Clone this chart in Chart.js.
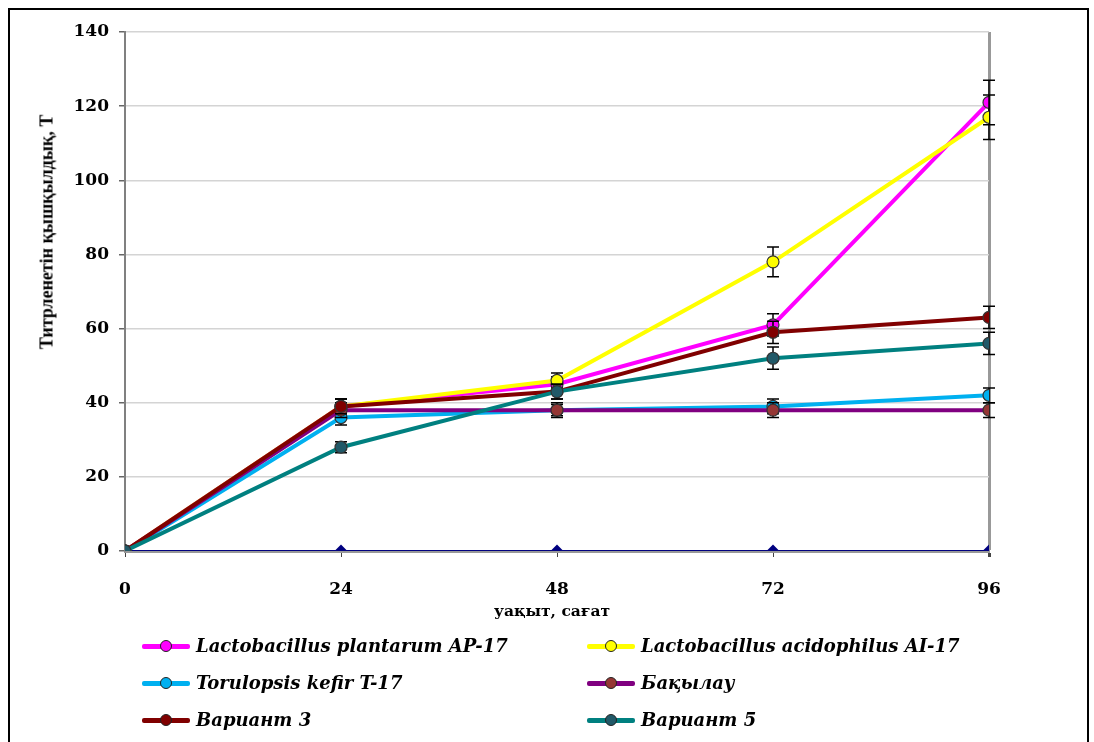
<!DOCTYPE html>
<html>
<head>
<meta charset="utf-8">
<script src="https://cdn.jsdelivr.net/npm/chart.js@4.4.0/dist/chart.umd.min.js"></script>
<style>
  body { margin: 0; background: #fff; }
  #wrap { position: relative; width: 1094px; height: 742px; overflow: hidden; }
  #frame { position: absolute; left: 8px; top: 8px; width: 1077px; height: 760px; border: 2px solid #000; pointer-events: none; }
  .axis-title { position: absolute; font-weight: bold; color: #000; white-space: nowrap; }
  #ytitle { left: 47px; top: 232px; font-family: "Liberation Serif", serif; font-size: 18px; transform: translate(-50%, -50%) rotate(-90deg); }
  #xtitle { left: 552px; top: 610px; font-family: "DejaVu Serif", serif; font-size: 15.5px; transform: translate(-50%, -50%); }
  .leg { position: absolute; display: flex; align-items: center; font-family: "DejaVu Serif", serif; font-weight: bold; font-style: italic; font-size: 18px; white-space: nowrap; }
  .leg .sym { position: relative; width: 48px; height: 14px; margin-right: 6px; }
  .leg .sym .ln { position: absolute; left: 0; right: 0; top: 5px; height: 5px; border-radius: 2px; }
  .leg .sym .dot { position: absolute; left: 18px; top: 1px; width: 10px; height: 10px; border-radius: 50%; border: 1.5px solid #222; }
</style>
</head>
<body>
<div id="wrap">
  <canvas id="chart" width="1094" height="742"></canvas>
  <div class="axis-title" id="ytitle">Титрленетін қышқылдық, Т</div>
  <div class="axis-title" id="xtitle">уақыт, сағат</div>
  <div id="legend"></div>
  <div id="frame"></div>
</div>
<script>
// data
const hours = [0, 24, 48, 72, 96];
const plantarum = [0, 39, 45, 61, 121];
const acidophilus = [0, 39, 46, 78, 117];
const kefir = [0, 36, 38, 39, 42];
const control = [0, 38, 38, 38, 38];
const variant3 = [0, 39, 43, 59, 63];
const variant5 = [0, 28, 43, 52, 56];
const baseline = [0, 0, 0, 0, 0];

const plantarumErr = [0, 2, 2, 3, 6];
const acidophilusErr = [0, 2, 2, 4, 6];
const kefirErr = [0, 2, 1.5, 2, 2];
const controlErr = [0, 2, 2, 2, 2];
const variant3Err = [0, 2, 2, 3, 3];
const variant5Err = [0, 1.5, 2, 3, 3];

const seriesNames = [
  "Lactobacillus plantarum AP-17",
  "Lactobacillus acidophilus  AI-17",
  "Torulopsis kefir T-17",
  "Бақылау",
  "Вариант 3",
  "Вариант 5",
];
const yTicks = [0, 20, 40, 60, 80, 100, 120, 140];

function pts(values) {
  return values.map((v, i) => ({ x: hours[i], y: v }));
}

const series = [
  { name: seriesNames[0], data: plantarum, err: plantarumErr, line: "#ff00ff", fill: "#ff00ff" },
  { name: seriesNames[1], data: acidophilus, err: acidophilusErr, line: "#ffff00", fill: "#ffff00" },
  { name: seriesNames[2], data: kefir, err: kefirErr, line: "#00b0f0", fill: "#00b0f0" },
  { name: seriesNames[3], data: control, err: controlErr, line: "#800080", fill: "#953735" },
  { name: seriesNames[4], data: variant3, err: variant3Err, line: "#800000", fill: "#800000" },
  { name: seriesNames[5], data: variant5, err: variant5Err, line: "#008080", fill: "#215968" },
];

const datasets = series.map((s, i) => ({
  label: s.name,
  data: pts(s.data),
  errors: s.err,
  borderColor: s.line,
  borderWidth: 4,
  pointBackgroundColor: s.fill,
  pointBorderColor: "#333",
  pointBorderWidth: 1.2,
  pointRadius: 6,
  order: 10 - i,
}));
datasets.push({
  label: "base",
  data: pts(baseline),
  borderColor: "#000080",
  borderWidth: 2,
  pointStyle: "rectRot",
  pointRadius: 5,
  pointBackgroundColor: "#000080",
  pointBorderColor: "#000080",
  order: 20,
});

// error bars drawn before each line so markers sit on top
const errorBars = {
  id: "errorBars",
  beforeDatasetDraw(chart, args) {
    const ds = chart.data.datasets[args.index];
    if (!ds.errors) return;
    const ctx = chart.ctx;
    const ys = chart.scales.y;
    ctx.save();
    ctx.strokeStyle = "#000";
    ctx.lineWidth = 1.5;
    args.meta.data.forEach((p, i) => {
      const e = ds.errors[i];
      if (!e) return;
      const v = ds.data[i].y;
      const top = ys.getPixelForValue(v + e);
      const bot = ys.getPixelForValue(v - e);
      ctx.beginPath();
      ctx.moveTo(p.x, top);
      ctx.lineTo(p.x, bot);
      ctx.moveTo(p.x - 6, top);
      ctx.lineTo(p.x + 6, top);
      ctx.moveTo(p.x - 6, bot);
      ctx.lineTo(p.x + 6, bot);
      ctx.stroke();
    });
    ctx.restore();
  },
};

const tickFont = { family: "DejaVu Serif", weight: "bold", size: 17 };

new Chart(document.getElementById("chart"), {
  type: "line",
  data: { datasets: datasets },
  plugins: [errorBars],
  options: {
    responsive: false,
    animation: false,
    layout: { padding: { left: 0, top: 32, right: 105, bottom: 0 } },
    plugins: { legend: { display: false }, tooltip: { enabled: false } },
    scales: {
      x: {
        type: "linear",
        min: 0,
        max: 96,
        afterFit: (s) => { s.height = 191; },
        afterBuildTicks: (s) => { s.ticks = hours.map((h) => ({ value: h })); },
        ticks: { font: tickFont, color: "#000", padding: 22 },
        grid: {
          color: (c) => (c.tick && c.tick.value === 96 ? "#999" : "rgba(0,0,0,0)"),
          lineWidth: (c) => (c.tick && c.tick.value === 96 ? 3 : 1),
          tickColor: "#444",
          tickLength: 6,
        },
        border: { color: "#999", width: 3 },
      },
      y: {
        min: 0,
        max: 140,
        afterFit: (s) => { s.width = 125; },
        afterBuildTicks: (s) => { s.ticks = yTicks.map((v) => ({ value: v })); },
        ticks: { font: tickFont, color: "#000", padding: 10 },
        grid: { color: "#d4d4d4", lineWidth: 1.5, tickColor: "#666", tickLength: 6 },
        border: { color: "#808080", width: 2 },
      },
    },
  },
});

// html legend, two columns x three rows
const legend = document.getElementById("legend");
const legRows = [646, 683, 720];
const legCols = [142, 587];
series.forEach((s, i) => {
  const item = document.createElement("div");
  item.className = "leg";
  item.style.left = legCols[i % 2] + "px";
  item.style.top = legRows[Math.floor(i / 2)] - 11 + "px";
  item.innerHTML =
    '<span class="sym"><span class="ln" style="background:' + s.line + '"></span>' +
    '<span class="dot" style="background:' + s.fill + '"></span></span>' +
    "<span>" + s.name + "</span>";
  legend.appendChild(item);
});
</script>
</body>
</html>
